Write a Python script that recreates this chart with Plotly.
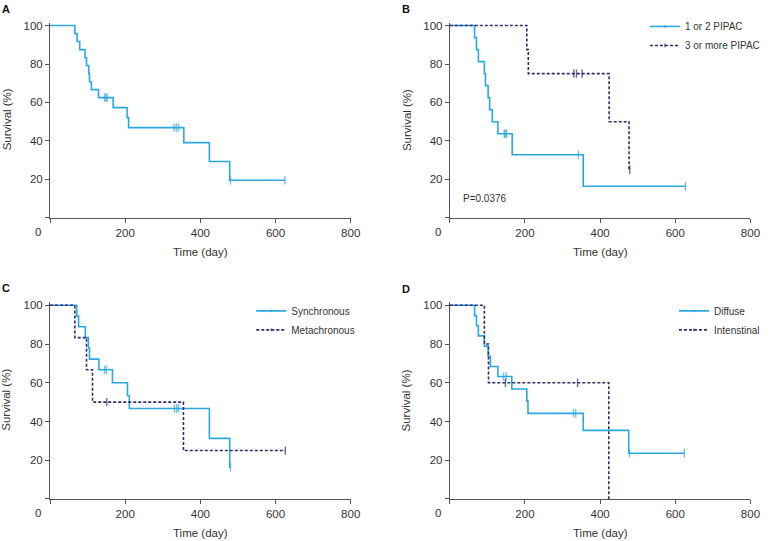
import plotly.graph_objects as go

# ---------------- data ----------------
A_time = [0, 66, 72, 79, 93, 97, 103, 105, 110, 129, 145, 149, 152, 168, 205, 209, 330, 336, 342, 356, 424, 478, 480, 625]
A_surv = [100, 95.8, 91.7, 87.5, 83.3, 79.2, 75.0, 70.8, 66.7, 62.5, 62.5, 62.5, 62.5, 57.3, 52.1, 46.9, 46.9, 46.9, 46.9, 39.1, 29.3, 19.5, 19.5, 19.5]
A_cens = [0, 0, 0, 0, 0, 0, 0, 0, 0, 0, 1, 1, 1, 0, 0, 0, 1, 1, 1, 0, 0, 0, 1, 1]

B1_name = "1 or 2 PIPAC"
B1_time = [0, 66, 71, 76, 92, 95, 102, 106, 113, 128, 145, 148, 151, 166, 342, 355, 627]
B1_surv = [100, 93.75, 87.5, 81.25, 75, 68.75, 62.5, 56.25, 50, 43.75, 43.75, 43.75, 43.75, 32.8, 32.8, 16.4, 16.4]
B1_cens = [0, 0, 0, 0, 0, 0, 0, 0, 0, 0, 1, 1, 1, 0, 1, 0, 1]

B2_name = "3 or more PIPAC"
B2_time = [0, 205, 209, 330, 337, 352, 424, 477, 479]
B2_surv = [100, 87.5, 75, 75, 75, 75, 50, 25, 25]
B2_cens = [0, 0, 0, 1, 1, 1, 0, 0, 1]

C1_name = "Synchronous"
C1_time = [0, 71, 76, 94, 102, 105, 130, 145, 150, 166, 206, 211, 331, 337, 342, 424, 478, 480]
C1_surv = [100, 94.4, 88.9, 83.3, 77.8, 72.2, 66.7, 66.7, 66.7, 60, 53.3, 46.7, 46.7, 46.7, 46.7, 31.3, 16.4, 16.4]
C1_cens = [0, 0, 0, 0, 0, 0, 0, 1, 1, 0, 0, 0, 1, 1, 1, 0, 0, 1]

C2_name = "Metachronous"
C2_time = [0, 66, 97, 113, 151, 355, 626]
C2_surv = [100, 83.3, 66.7, 50, 50, 25, 25]
C2_cens = [0, 0, 0, 0, 1, 0, 1]

D1_name = "Diffuse"
D1_time = [0, 66, 71, 76, 92, 102, 108, 128, 143, 150, 165, 205, 208, 329, 335, 355, 476, 478, 624]
D1_surv = [100, 94.7, 89.5, 84.2, 78.9, 73.7, 68.4, 63.2, 63.2, 63.2, 56.8, 50.5, 44.2, 44.2, 44.2, 35.4, 23.6, 23.6, 23.6]
D1_cens = [0, 0, 0, 0, 0, 0, 0, 0, 1, 1, 0, 0, 0, 1, 1, 0, 0, 1, 1]

D2_name = "Intenstinal"
D2_time = [0, 92, 103, 148, 340, 423]
D2_surv = [100, 80, 60, 60, 60, 0]
D2_cens = [0, 0, 0, 1, 1, 0]

x_ticks = [0, 200, 400, 600, 800]
y_ticks = [0, 20, 40, 60, 80, 100]
p_value_text = "P=0.0376"

# ---------------- styling ----------------
CYAN = "#2BA8E0"
NAVY = "#2E2D6B"
AXIS = "#555555"
TXT = "#333333"
FONT = "Liberation Sans, Arial, sans-serif"

W, H = 771, 541
fig = go.Figure()


def km_trace(t, s, c, color, dash, xa, ya, name=None, legend=None):
    sizes = [6 if v else 0 for v in c]
    return go.Scatter(
        x=t, y=s, mode="lines+markers", line=dict(color=color, width=1.6, dash=dash, shape="hv"),
        marker=dict(symbol="line-ns", size=sizes, color=color, line=dict(color=color, width=1.4)),
        xaxis=xa, yaxis=ya, name=name, showlegend=name is not None,
        legend=legend if legend else "legend", hoverinfo="skip")


fig.add_trace(km_trace(A_time, A_surv, A_cens, CYAN, "solid", "x", "y"))
fig.add_trace(km_trace(B1_time, B1_surv, B1_cens, CYAN, "solid", "x2", "y2", B1_name, "legend"))
fig.add_trace(km_trace(B2_time, B2_surv, B2_cens, NAVY, "3px,2px", "x2", "y2", B2_name, "legend"))
fig.add_trace(km_trace(C1_time, C1_surv, C1_cens, CYAN, "solid", "x3", "y3", C1_name, "legend2"))
fig.add_trace(km_trace(C2_time, C2_surv, C2_cens, NAVY, "3px,2px", "x3", "y3", C2_name, "legend2"))
fig.add_trace(km_trace(D1_time, D1_surv, D1_cens, CYAN, "solid", "x4", "y4", D1_name, "legend3"))
fig.add_trace(km_trace(D2_time, D2_surv, D2_cens, NAVY, "3px,2px", "x4", "y4", D2_name, "legend3"))

# pixel geometry of the four plot areas
left_x = (50.7, 355.3)
right_x = (455.7, 760.3)
top_y = (216.0, 1.933)     # pixel of y=0, px per unit
bot_y = (498.7, 1.947)
YMAX = 101.5


def xdom(px):
    return [px[0] / W, px[1] / W]


def ydom(py):
    base, k = py
    return [1 - base / H, 1 - (base - k * YMAX) / H]


def xaxis_cfg(px, anchor):
    return dict(domain=xdom(px), anchor=anchor, range=[0, 800], tickvals=x_ticks,
                ticktext=[""] + [str(v) for v in x_ticks[1:]], ticks="outside", ticklen=4,
                tickcolor=AXIS, showline=True, linecolor=AXIS, linewidth=1, showgrid=False,
                zeroline=False, tickfont=dict(size=11.5, color=TXT, family=FONT), fixedrange=True)


def yaxis_cfg(py, anchor):
    return dict(domain=ydom(py), anchor=anchor, range=[0, YMAX], tickvals=y_ticks,
                ticktext=[""] + [str(v) for v in y_ticks[1:]], ticks="outside", ticklen=4,
                tickcolor=AXIS, showline=True, linecolor=AXIS, linewidth=1, showgrid=False,
                zeroline=False, tickfont=dict(size=11.5, color=TXT, family=FONT), fixedrange=True)


leg_common = dict(font=dict(size=10, color=TXT, family=FONT), bgcolor="rgba(0,0,0,0)",
                  xanchor="right", yanchor="top", tracegroupgap=0, itemwidth=30)

fig.update_layout(
    width=W, height=H, margin=dict(l=0, r=0, t=0, b=0),
    paper_bgcolor="white", plot_bgcolor="white",
    font=dict(family=FONT, color=TXT),
    xaxis=xaxis_cfg(left_x, "y"), yaxis=yaxis_cfg(top_y, "x"),
    xaxis2=xaxis_cfg(right_x, "y2"), yaxis2=yaxis_cfg(top_y, "x2"),
    xaxis3=xaxis_cfg(left_x, "y3"), yaxis3=yaxis_cfg(bot_y, "x3"),
    xaxis4=xaxis_cfg(right_x, "y4"), yaxis4=yaxis_cfg(bot_y, "x4"),
    legend=dict(x=775 / W, y=1 - 9 / H, **leg_common),
    legend2=dict(x=365 / W, y=1 - 295 / H, **leg_common),
    legend3=dict(x=775 / W, y=1 - 295 / H, **leg_common),
)

ann = []
# panel letters
for letter, px, py in [("A", 6, 6), ("B", 411, 6), ("C", 6, 287), ("D", 411, 288)]:
    ann.append(dict(text="<b>%s</b>" % letter, x=px / W, y=1 - py / H, xref="paper", yref="paper",
                    xanchor="center", yanchor="middle", showarrow=False,
                    font=dict(size=11, color="#111", family=FONT)))
# axis titles
for px, base in [(left_x, top_y), (right_x, top_y), (left_x, bot_y), (right_x, bot_y)]:
    cx = (px[0] + px[1]) / 2
    ann.append(dict(text="Time (day)", x=cx / W, y=1 - (base[0] + 34) / H, xref="paper", yref="paper",
                    xanchor="center", yanchor="middle", showarrow=False,
                    font=dict(size=11.5, color=TXT, family=FONT)))
    cy = base[0] - base[1] * 50 - 2
    ann.append(dict(text="Survival (%)", x=(px[0] - 44) / W, y=1 - cy / H, xref="paper", yref="paper",
                    xanchor="center", yanchor="middle", textangle=-90, showarrow=False,
                    font=dict(size=11.5, color=TXT, family=FONT)))
    # origin "0" label
    ann.append(dict(text="0", x=(px[0] - 12) / W, y=1 - (base[0] + 14) / H, xref="paper", yref="paper",
                    xanchor="center", yanchor="middle", showarrow=False,
                    font=dict(size=11.5, color=TXT, family=FONT)))
# p value
ann.append(dict(text=p_value_text, x=30, y=10, xref="x2", yref="y2", xanchor="left", yanchor="middle",
                showarrow=False, font=dict(size=10, color=TXT, family=FONT)))
fig.update_layout(annotations=ann)

fig.write_html(
    "out.html",
    config={"displayModeBar": False},
    post_script="document.body.style.margin='0';document.body.style.padding='0';"
                "document.documentElement.style.overflow='hidden';",
)
